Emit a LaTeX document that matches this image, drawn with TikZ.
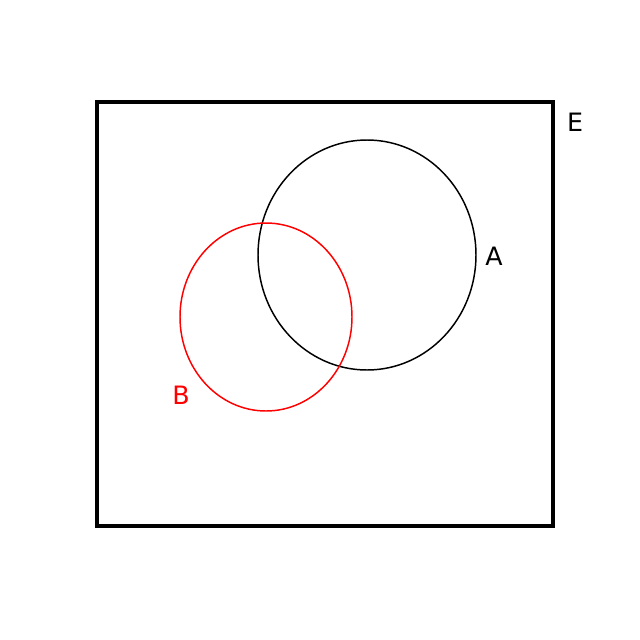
\documentclass[tikz,border=0pt]{standalone}
\usepackage{fontspec}
\setmainfont{DejaVu Sans}
\usetikzlibrary{shapes.geometric}
\begin{document}
\begin{tikzpicture}[x=0.05cm,y=-0.05cm,
  lab/.style={font=\fontsize{36}{40}\selectfont, inner sep=0pt}]
\useasboundingbox (0,0) rectangle (640,640);
\node[draw, line width=4.3pt, minimum width=456*0.05cm, minimum height=424*0.05cm, inner sep=0pt] (E) at (325,314) {};
\node[draw, ellipse, line width=2.1pt, minimum width=218*0.05cm, minimum height=230*0.05cm, inner sep=0pt] (A) at (367,255) {};
\node[draw=red, ellipse, line width=2.1pt, minimum width=172*0.05cm, minimum height=188*0.05cm, inner sep=0pt] (B) at (266,317) {};
\node[lab] (lE) at (575,122) {E};
\node[lab] (lA) at (494,256) {A};
\node[lab, text=red] (lB) at (181,395) {B};
\end{tikzpicture}
\end{document}
